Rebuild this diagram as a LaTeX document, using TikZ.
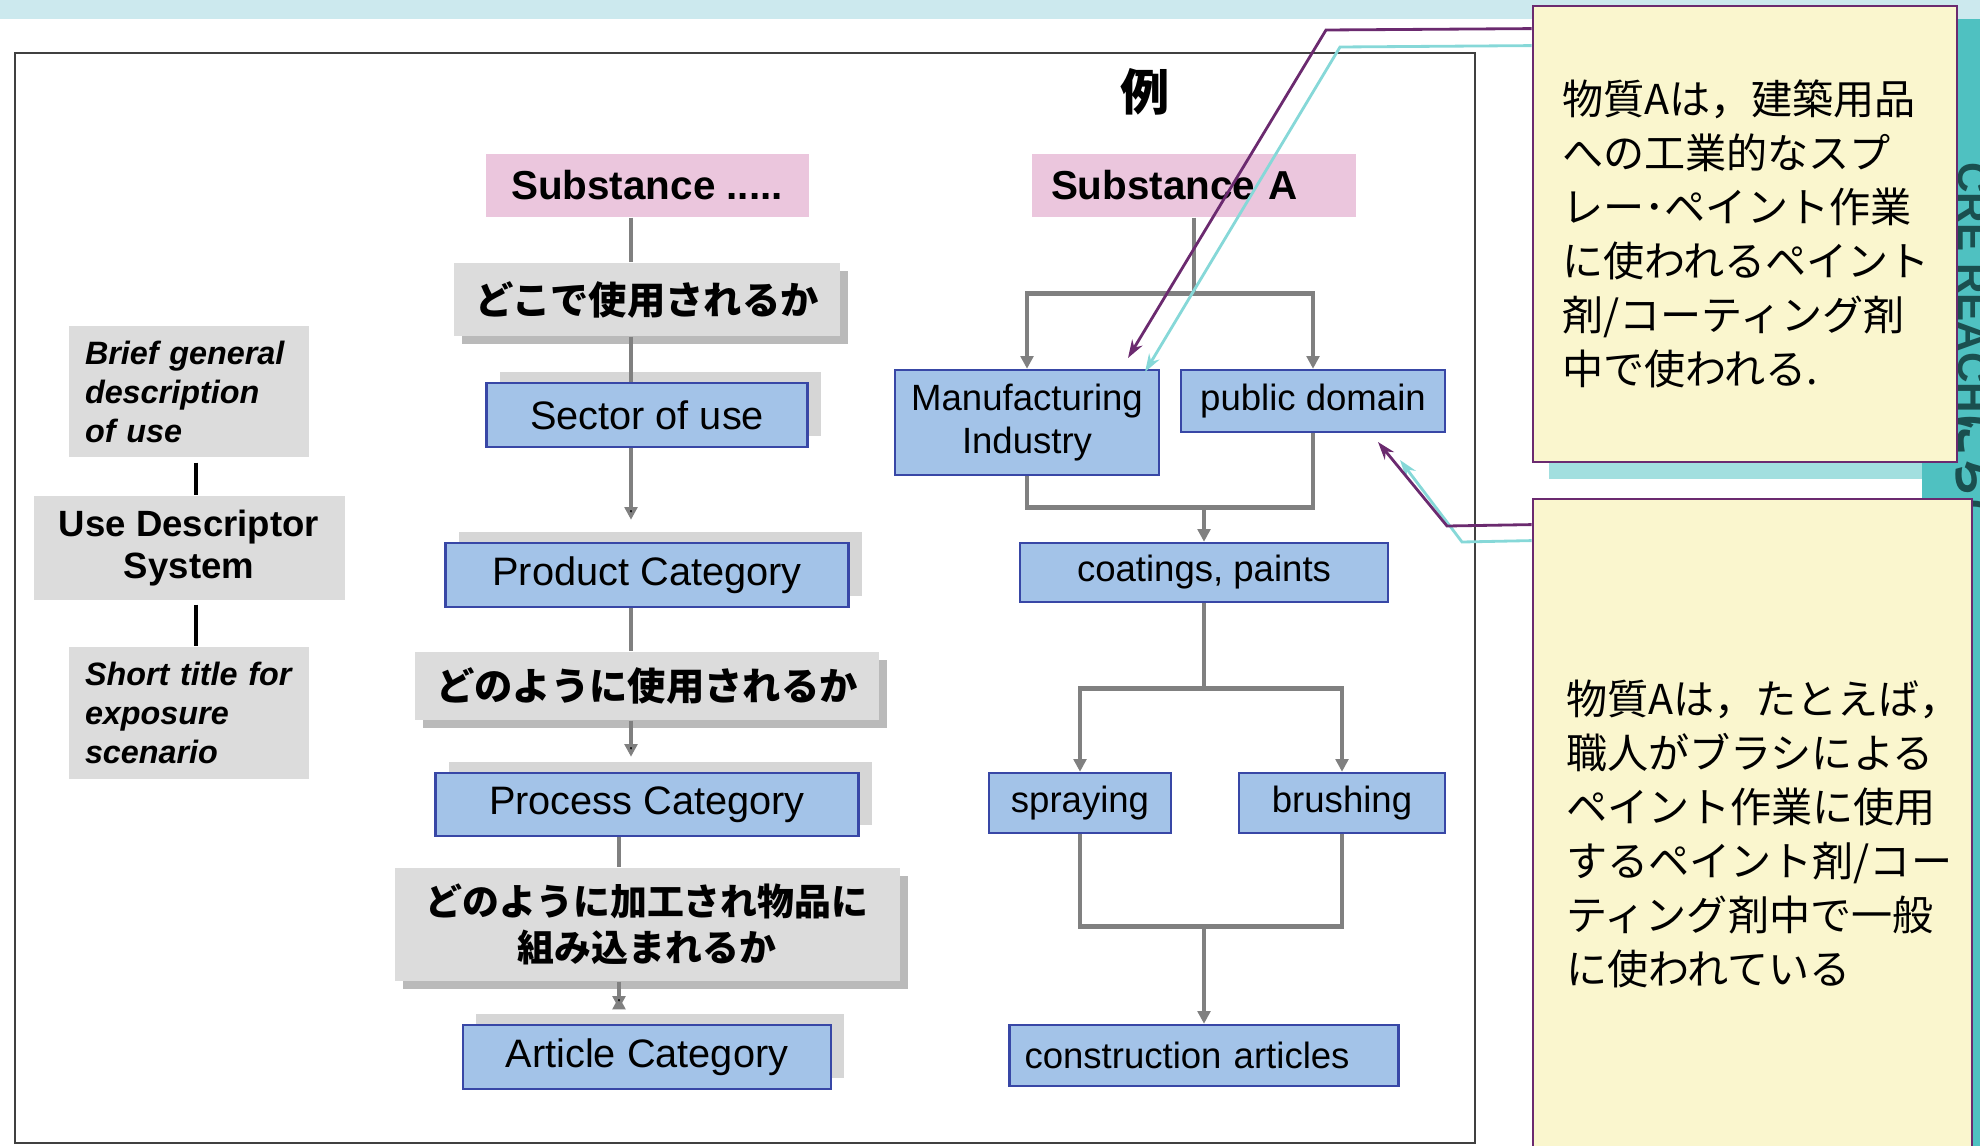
\documentclass[tikz,border=0pt]{standalone}
\usepackage{fontspec}
\setmainfont{Liberation Sans}
\newfontfamily\jp{Noto Sans CJK JP}
\usepackage{tikz}
\usetikzlibrary{arrows.meta,positioning,shadows}

\definecolor{bandcyan}{HTML}{CCE9EE}
\definecolor{pinkfill}{HTML}{EBC6DD}
\definecolor{bluefill}{HTML}{A3C3E8}
\definecolor{blueline}{HTML}{3847A6}
\definecolor{greyfill}{HTML}{DCDCDC}
\definecolor{linkgrey}{HTML}{808080}
\definecolor{notefill}{HTML}{FAF6CE}
\definecolor{noteline}{HTML}{6B2A6F}
\definecolor{notecyan}{HTML}{86D8D8}
\definecolor{tealshadow}{HTML}{A2DFDF}
\definecolor{tealband}{HTML}{4FC1C1}
\definecolor{tealtext}{HTML}{1A4F4F}

\begin{document}
\begin{tikzpicture}[on grid,
    subbox/.style={fill=pinkfill, inner sep=0pt, font=\bfseries\fontsize{11.5}{14}\selectfont},
    catbox/.style={draw=blueline, line width=0.7pt, fill=bluefill, inner sep=0pt,
        font=\fontsize{11.3}{13.5}\selectfont,
        drop shadow={shadow xshift=0.13cm, shadow yshift=0.11cm, fill=black!16, opacity=1}},
    usebox/.style={draw=blueline, line width=0.7pt, fill=bluefill, inner sep=0pt, align=center,
        font=\fontsize{10.4}{12.2}\selectfont},
    askbox/.style={fill=greyfill, inner sep=0pt, align=center,
        font=\jp\bfseries\fontsize{10.9}{12.9}\selectfont,
        drop shadow={shadow xshift=0.08cm, shadow yshift=-0.08cm, fill=black!27, opacity=1}},
    udsbox/.style={fill=greyfill, inner sep=0pt},
    note/.style={draw=noteline, line width=0.8pt, fill=notefill, inner sep=0pt, align=left,
        font=\jp\fontsize{11.7}{15.4}\selectfont},
    link/.style={draw=linkgrey, line width=1.4pt},
    linkto/.style={link, -{Triangle[length=3.6pt,width=3.6pt]}},
    ptr/.style={draw=noteline, line width=0.8pt, -{Stealth[length=0.18cm,width=0.12cm]}},
    ptrshade/.style={draw=notecyan, line width=0.8pt, -{Stealth[length=0.18cm,width=0.12cm]}}
]
\useasboundingbox (0,0) rectangle (19.80,-11.46);
\fill[bandcyan] (0,0) rectangle (19.80,-0.19);
\draw[black!75, line width=0.75pt] (0.15,-0.53) rectangle (14.75,-11.43);

\node[font=\jp\bfseries\fontsize{14}{16}\selectfont] (rei) at (11.45,-0.92) {例};

% use descriptor system
\node[udsbox, minimum width=2.40cm, minimum height=1.31cm, text width=2.08cm, align=left,
      font=\bfseries\itshape\fontsize{9.2}{11.1}\selectfont] (brief) at (1.89,-3.915)
      {Brief general\\description\\of use};
\node[udsbox, minimum width=3.11cm, minimum height=1.04cm, align=center,
      font=\bfseries\fontsize{10.4}{12.2}\selectfont] (uds) [below=1.565cm of brief]
      {Use Descriptor\\System};
\node[udsbox, minimum width=2.40cm, minimum height=1.32cm, text width=2.08cm, align=left,
      font=\bfseries\itshape\fontsize{9.2}{11.1}\selectfont] (short) [below=1.65cm of uds]
      {Short title for\\exposure\\scenario};
\draw[black, line width=1.1pt, shorten <=0.05cm] ([xshift=0.07cm]brief.south) -- ([xshift=0.07cm]uds.north);
\draw[black, line width=1.1pt, shorten <=0.04cm] ([xshift=0.07cm]uds.south) -- ([xshift=0.07cm]short.north);

% generic chain
\node[subbox, minimum width=3.23cm, minimum height=0.63cm] (subst) at (6.47,-1.855) {Substance .....};
\node[askbox, minimum width=3.86cm, minimum height=0.73cm] (q1) [below=1.14cm of subst] {どこで使用されるか};
\node[catbox, minimum width=3.21cm, minimum height=0.64cm] (sector) [below=1.155cm of q1] {Sector of use};
\node[catbox, minimum width=4.03cm, minimum height=0.64cm] (product) [below=1.60cm of sector] {Product Category};
\node[askbox, minimum width=4.64cm, minimum height=0.68cm] (q2) [below=1.11cm of product] {どのように使用されるか};
\node[catbox, minimum width=4.23cm, minimum height=0.63cm] (process) [below=1.185cm of q2] {Process Category};
\node[askbox, minimum width=5.05cm, minimum height=1.13cm, font=\jp\bfseries\fontsize{10.5}{12.9}\selectfont]
      (q3) [below=1.20cm of process] {どのように加工され物品に\\組み込まれるか};
\node[catbox, minimum width=3.68cm, minimum height=0.64cm] (article) [below=1.325cm of q3] {Article Category};

\coordinate (spineA) at (6.31,0);
\coordinate (spineB) at (6.19,0);
\path[link] (subst.south -| spineA) edge (q1.north -| spineA)
            (q1.south -| spineA) edge (sector.north -| spineA)
            (product.south -| spineA) edge (q2.north -| spineA)
            (process.south -| spineB) edge (q3.north -| spineB);
\path[linkto, shorten >=0.15cm]
            (sector.south -| spineA) edge [shorten >=0.22cm] (product.north -| spineA)
            (q2.south -| spineA) edge (process.north -| spineA)
            (q3.south -| spineB) edge (article.north -| spineB);

% example: substance A
\node[subbox, minimum width=3.24cm, minimum height=0.63cm, inner xsep=0.19cm, text width=2.86cm, align=left]
      (substA) at (11.94,-1.855) {Substance A};
\node[usebox, minimum width=2.64cm, minimum height=1.05cm] (manuf) [below left=2.37cm and 1.67cm of substA]
      {Manufacturing\\Industry};
\node[usebox, minimum width=2.64cm, minimum height=0.62cm] (public) [above right=0.215cm and 2.86cm of manuf]
      {public domain};
\node[usebox, minimum width=3.68cm, minimum height=0.59cm] (coat) [below right=1.50cm and 1.77cm of manuf]
      {coatings, paints};
\node[usebox, minimum width=1.82cm, minimum height=0.60cm] (spray) [below left=2.305cm and 1.24cm of coat]
      {spraying};
\node[usebox, minimum width=2.06cm, minimum height=0.60cm] (brush) [below right=2.305cm and 1.38cm of coat]
      {brushing};
\node[usebox, minimum width=3.89cm, minimum height=0.61cm, inner xsep=0.15cm, text width=3.59cm, align=left]
      (constr) [below=4.83cm of coat] {construction articles};

\coordinate[below=0.76cm of substA.south] (forkA);
\coordinate[above=0.34cm of coat.north] (joinA);
\coordinate[below=0.85cm of coat.south] (forkB);
\coordinate[above=0.97cm of constr.north] (joinB);
\draw[link] (substA.south) -- (forkA);
\draw[linkto] (forkA) -| (manuf.north);
\draw[linkto] (forkA) -| (public.north);
\draw[link] (manuf.south) |- (joinA) -| (public.south);
\draw[linkto] (joinA) -- (coat.north);
\draw[link] (coat.south) -- (forkB);
\draw[linkto] (forkB) -| (spray.north);
\draw[linkto] (forkB) -| (brush.north);
\draw[link] (spray.south) |- (joinB) -| (brush.south);
\draw[linkto] (joinB) -- (constr.north);

% side band and notes
\fill[tealshadow] (15.49,-0.22) rectangle (19.73,-4.79);
\fill[tealband] (19.22,-0.19) rectangle (19.80,-11.46);
\node[rotate=-90, anchor=base west, text=tealtext, font=\bfseries\fontsize{12}{14}\selectfont]
      (bandtext) at (19.58,-1.50) {CRE REACH{\jp にち(}};

\node[note, minimum width=4.24cm, minimum height=4.56cm, text width=3.66cm] (call1) at (17.45,-2.34)
      {物質Aは，建築用品\\への工業的なスプ\\レー･ペイント作業\\に使われるペイント\\剤/コーティング剤\\中で使われる.};
\node[note, minimum width=4.39cm, minimum height=6.70cm, text width=3.73cm] (call2) at (17.525,-8.34)
      {物質Aは，たとえば，\\職人がブラシによる\\ペイント作業に使用\\するペイント剤/コー\\ティング剤中で一般\\に使われている};

\coordinate (bendM) at (13.26,-0.30);
\coordinate (bendMs) at (13.40,-0.47);
\coordinate (tipM) at (11.28,-3.58);
\coordinate (tipMs) at (11.45,-3.72);
\coordinate (bendP) at (14.47,-5.26);
\coordinate (bendPs) at (14.62,-5.42);
\coordinate (tipP) at (13.78,-4.42);
\coordinate (tipPs) at (14.00,-4.60);
\draw[ptrshade] ([yshift=-0.41cm]call1.north west) -- (bendMs) -- (tipMs);
\draw[ptr] ([yshift=-0.24cm]call1.north west) -- (bendM) -- (tipM);
\draw[ptrshade] ([yshift=-0.43cm]call2.north west) -- (bendPs) -- (tipPs);
\draw[ptr] ([yshift=-0.27cm]call2.north west) -- (bendP) -- (tipP);
\end{tikzpicture}
\end{document}
